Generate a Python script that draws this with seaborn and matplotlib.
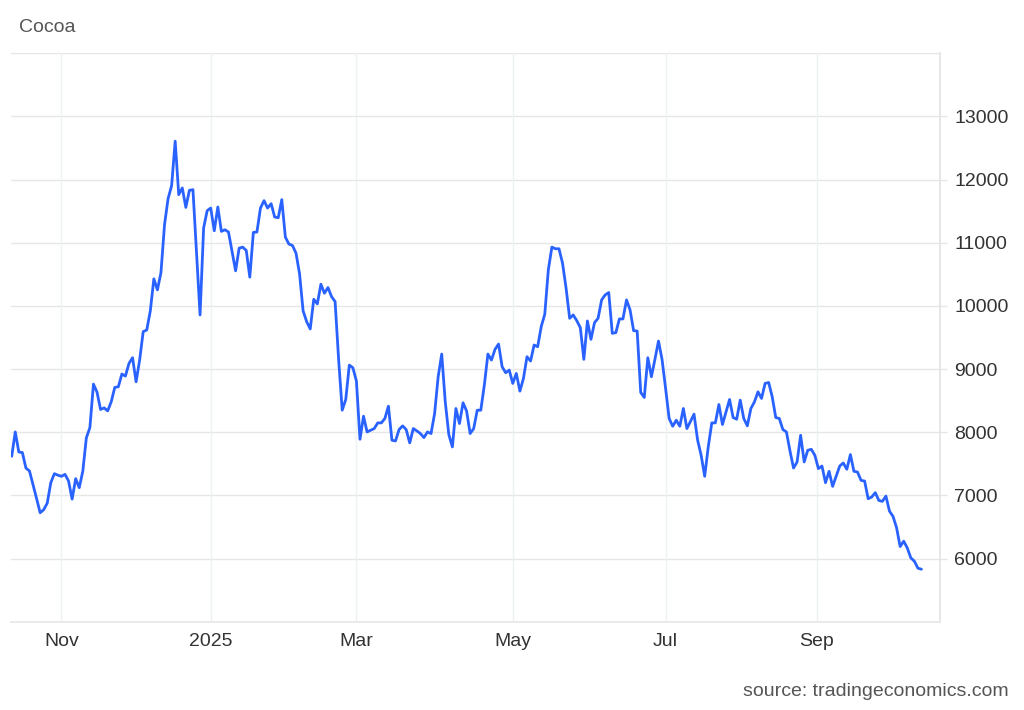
import numpy as np
import pandas as pd
import matplotlib
matplotlib.use("Agg")
import matplotlib.pyplot as plt
import seaborn as sns

# Daily cocoa price (USD/t), trading days Oct 2024 - Oct 2025
prices = [
    7619, 8005, 7687, 7678, 7433, 7386, 7170, 6950, 6725, 6773,
    6878, 7201, 7344, 7320, 7302, 7333, 7227, 6941, 7265, 7122,
    7381, 7910, 8074, 8762, 8635, 8360, 8386, 8338, 8481, 8709,
    8720, 8921, 8889, 9090, 9180, 8799, 9143, 9593, 9619, 9921,
    10429, 10254, 10529, 11286, 11698, 11905, 12609, 11762, 11868, 11560,
    11830, 11841, 10850, 9857, 11233, 11508, 11550, 11190, 11566, 11180,
    11206, 11170, 10860, 10556, 10915, 10931, 10878, 10455, 11164, 11170,
    11550, 11667, 11550, 11619, 11407, 11397, 11683, 11090, 10979, 10957,
    10836, 10508, 9921, 9751, 9635, 10106, 10032, 10344, 10201, 10291,
    10148, 10069, 9143, 8349, 8519, 9063, 9021, 8810, 7889, 8254,
    8005, 8032, 8058, 8148, 8148, 8217, 8413, 7873, 7862, 8042,
    8101, 8042, 7831, 8058, 8021, 7979, 7915, 8005, 7979, 8296,
    8878, 9238, 8481, 7963, 7767, 8376, 8138, 8466, 8336, 7979,
    8058, 8349, 8349, 8750, 9238, 9143, 9312, 9397, 9037, 8942,
    8984, 8773, 8931, 8651, 8852, 9196, 9127, 9381, 9354, 9672,
    9868, 10571, 10931, 10905, 10905, 10677, 10280, 9804, 9857, 9767,
    9656, 9154, 9762, 9471, 9735, 9804, 10095, 10175, 10212, 9566,
    9577, 9794, 9794, 10095, 9937, 9608, 9603, 8630, 8550, 9180,
    8878, 9154, 9444, 9154, 8693, 8217, 8095, 8190, 8095, 8376,
    8058, 8172, 8286, 7878, 7635, 7302, 7767, 8148, 8148, 8439,
    8122, 8323, 8519, 8233, 8206, 8508, 8217, 8101, 8376, 8481,
    8640, 8535, 8773, 8788, 8561, 8233, 8217, 8042, 8005, 7704,
    7433, 7529, 7952, 7529, 7714, 7730, 7635, 7424, 7465, 7201,
    7381, 7143, 7302, 7465, 7513, 7413, 7646, 7381, 7370, 7238,
    7227, 6947, 6974, 7043, 6921, 6905, 6989, 6751, 6667, 6487,
    6190, 6275, 6169, 6011, 5958, 5847, 5831,
]
# trading-day index of the first session of each labelled month
month_tick_days = [14, 56, 97, 141, 184, 226.6]
month_tick_labels = ["Nov", "2025", "Mar", "May", "Jul", "Sep"]
y_ticks = [6000, 7000, 8000, 9000, 10000, 11000, 12000, 13000]

df = pd.DataFrame({"day": np.arange(len(prices)), "price": prices})

sns.set_theme(style="white")
plt.rcParams["font.family"] = ["Liberation Sans", "DejaVu Sans"]

fig = plt.figure(figsize=(10.24, 7.10), dpi=100)
ax = fig.add_axes([11 / 1024, 1 - 621.7 / 710, (940.3 - 11) / 1024, (621.7 - 53.3) / 710])

sns.lineplot(data=df, x="day", y="price", ax=ax, color="#2962ff", linewidth=2.0, zorder=3)

ax.set_xlim(-0.2, 261.3)
ax.set_ylim(5000, 14000)

ax.set_xticks(month_tick_days)
ax.set_xticklabels(month_tick_labels)
ax.set_yticks(y_ticks)
ax.set_yticklabels([str(v) for v in y_ticks])

ax.yaxis.tick_right()
ax.yaxis.set_label_position("right")
ax.set_xlabel("")
ax.set_ylabel("")

# horizontal grid incl. top border
for v in y_ticks + [14000]:
    ax.axhline(v, color="#e6e6e6", linewidth=1.0, zorder=1)
for d in month_tick_days:
    ax.axvline(d, color="#edf1f4", linewidth=1.0, zorder=1)

for side in ["left", "top"]:
    ax.spines[side].set_visible(False)
ax.spines["right"].set_color("#e3e3e3")
ax.spines["right"].set_linewidth(1.2)
ax.spines["bottom"].set_color("#e6e6e6")
ax.spines["bottom"].set_linewidth(1.2)

ax.tick_params(axis="y", which="both", right=True, left=False, length=5,
               width=1.0, color="#e6e6e6", pad=5, labelsize=14, labelcolor="#333333")
ax.tick_params(axis="x", which="both", bottom=False, length=0, pad=8,
               labelsize=14, labelcolor="#333333")

fig.text(19 / 1024, 1 - 27 / 710, "Cocoa", fontsize=14, color="#555555",
         ha="left", va="center")
fig.text(1009 / 1024, 1 - 691 / 710, "source: tradingeconomics.com", fontsize=14,
         color="#555555", ha="right", va="center")

fig.savefig("out.png", dpi=100, facecolor="white")
